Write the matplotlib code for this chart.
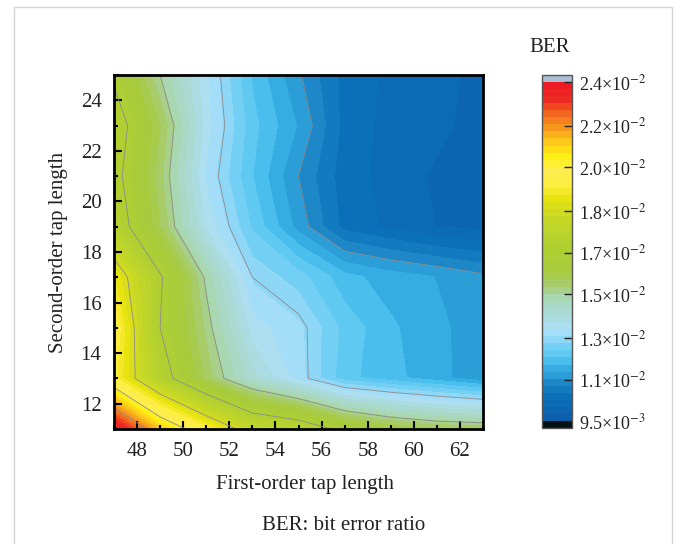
import numpy as np
import matplotlib
matplotlib.use('Agg')
import matplotlib.pyplot as plt
from matplotlib.colors import LinearSegmentedColormap
from matplotlib.patches import Rectangle

plt.rcParams['font.family'] = ['Liberation Serif', 'DejaVu Serif']
plt.rcParams['mathtext.fontset'] = 'stix'

# tap lengths on the grid
first_order = [47, 49, 51, 53, 55, 57, 59, 61, 63]
second_order = [11, 13, 15, 17, 19, 21, 23, 25]

# BER in units of 1e-2, one list per second-order tap length
ber_11 = [2.42, 2.15, 1.97, 1.80, 1.755, 1.65, 1.59, 1.56, 1.55]
ber_13 = [1.97, 1.73, 1.55, 1.42, 1.33, 1.235, 1.205, 1.175, 1.14]
ber_15 = [2.00, 1.68, 1.52, 1.36, 1.325, 1.245, 1.20, 1.17, 1.15]
ber_17 = [1.93, 1.69, 1.49, 1.31, 1.27, 1.205, 1.18, 1.163, 1.14]
ber_19 = [1.74, 1.56, 1.37, 1.25, 1.15, 1.06, 1.035, 1.01, 1.00]
ber_21 = [1.71, 1.54, 1.34, 1.225, 1.13, 1.055, 1.03, 1.005, 0.99]
ber_23 = [1.73, 1.56, 1.36, 1.235, 1.16, 1.06, 1.03, 1.02, 0.995]
ber_25 = [1.665, 1.50, 1.35, 1.22, 1.135, 1.06, 1.035, 1.022, 1.00]

bar_ticks = [0.95, 1.13, 1.31, 1.50, 1.68, 1.86, 2.05, 2.23, 2.42]
bar_labels = ['9.5×10$^{-3}$', '1.1×10$^{-2}$', '1.3×10$^{-2}$', '1.5×10$^{-2}$', '1.7×10$^{-2}$',
              '1.8×10$^{-2}$', '2.0×10$^{-2}$', '2.2×10$^{-2}$', '2.4×10$^{-2}$']

# colour stops (position along the bar, colour)
stops = [(0.0, '#0d5fae'), (0.07, '#0a72b9'), (0.105, '#1d86c6'), (0.125, '#2a9bd6'), (0.142, '#2ea5dc'),
         (0.162, '#41bbec'), (0.186, '#5cc8f0'), (0.206, '#6accf3'), (0.23, '#8ad6f6'), (0.265, '#aee0f8'),
         (0.31, '#aadbd8'), (0.358, '#a8d8b8'), (0.397, '#a8cc70'), (0.436, '#a6ca40'), (0.505, '#b0cf32'),
         (0.564, '#bcd42c'), (0.62, '#d0da20'), (0.66, '#e8e410'), (0.70, '#fdee40'), (0.745, '#fded50'),
         (0.79, '#fef010'), (0.83, '#fdc81c'), (0.87, '#f89a1c'), (0.917, '#f3641f'), (0.956, '#ee2a24'),
         (1.0, '#ed1c24')]
cmap = LinearSegmentedColormap.from_list('ber', stops, N=48)
cmap.set_under('#001212')
cmap.set_over('#a9bfd3')

ber = np.array([ber_11, ber_13, ber_15, ber_17, ber_19, ber_21, ber_23, ber_25])
levels = np.linspace(bar_ticks[0], bar_ticks[-1], 49)

W, H = 682, 544
fig = plt.figure(figsize=(W / 100, H / 100), dpi=100)

# page frame around the figure
fig.add_artist(Rectangle((14 / W, -0.02), 658 / W, 1 - 7 / H + 0.02, transform=fig.transFigure,
                         fill=False, edgecolor='#d4d4d4', linewidth=1))

ax = fig.add_axes([114 / W, 1 - 429 / H, 369 / W, 354 / H])
cf = ax.contourf(first_order, second_order, ber, levels=levels, cmap=cmap, extend='both')
cf.set_edgecolor('face')
ax.contour(first_order, second_order, ber, levels=bar_ticks[1:-1], colors='#8c8c8c', linewidths=0.6)

ax.set_xlim(47, 63)
ax.set_ylim(11, 25)
ax.set_xticks(range(48, 64, 2))
ax.set_xticks(range(47, 64, 2), minor=True)
ax.set_yticks(range(12, 26, 2))
ax.set_yticks(range(11, 26, 2), minor=True)
ax.tick_params(which='major', direction='in', length=6, width=1.5, labelsize=15, pad=9, labelcolor='#222222')
ax.tick_params(which='minor', direction='in', length=3, width=1.5)
for spine in ax.spines.values():
    spine.set_linewidth(2)
ax.set_xlabel('First-order tap length', fontsize=15, color='#222222', va='center')
ax.set_ylabel('Second-order tap length', fontsize=15, color='#222222', va='center')
ax.xaxis.set_label_coords((305 - 114) / 369, -55 / 354)
ax.yaxis.set_label_coords(-56 / 369, 0.5)

cax = fig.add_axes([542 / W, 1 - 428 / H, 30 / W, 353 / H])
cbar = fig.colorbar(cf, cax=cax, extend='both', extendrect=True, extendfrac=0.0206, drawedges=False)
cbar.set_ticks(bar_ticks, labels=bar_labels)
cbar.minorticks_off()
cbar.ax.tick_params(direction='in', length=6, width=1, labelsize=13, pad=5, colors='#222222')
cbar.outline.set_edgecolor('#555555')
cbar.outline.set_linewidth(1)

fig.text(550 / W, 1 - 47 / H, 'BER', fontsize=15, ha='center', va='center', color='#222222')
fig.text(344 / W, 1 - 525 / H, 'BER: bit error ratio', fontsize=15, ha='center', va='center', color='#222222')

fig.savefig('out.png', dpi=100)
